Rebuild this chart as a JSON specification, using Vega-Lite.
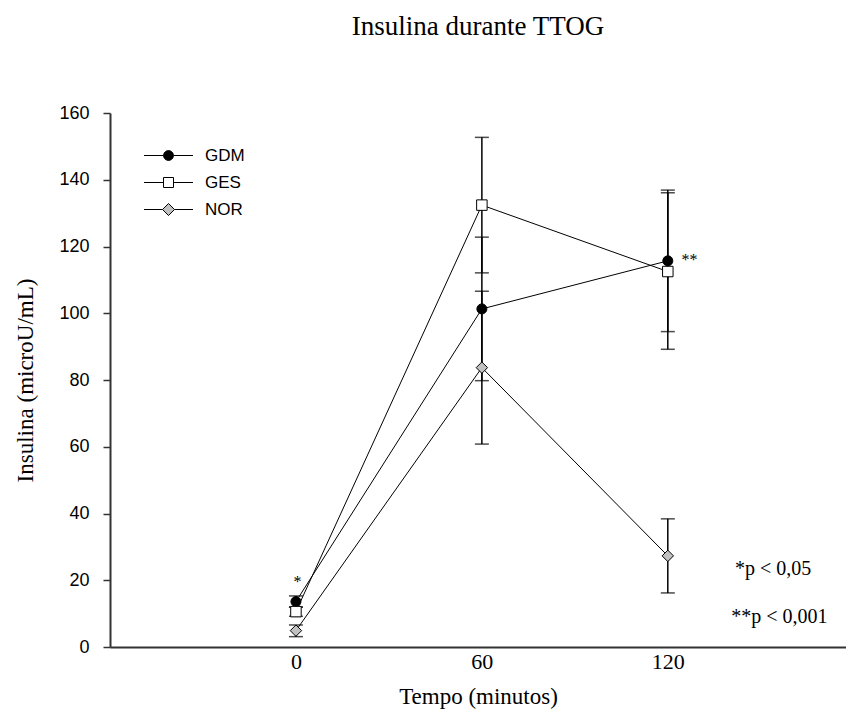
{
  "$schema": "https://vega.github.io/schema/vega-lite/v6.json",
  "width": 736,
  "height": 534,
  "autosize": {"type": "none"},
  "padding": {"left": 110, "top": 113, "right": 0, "bottom": 72},
  "background": "white",
  "title": {"text": "Insulina durante TTOG", "font": "Liberation Serif", "fontSize": 27, "fontWeight": "normal", "color": "black", "anchor": "middle", "offset": 63},
  "config": {"view": {"stroke": null}},
  "datasets": {
    "ins": [
      {"grupo": "GDM", "tempo": 0, "insulina": 13.6, "lo": 11.9, "hi": 15.3},
      {"grupo": "GDM", "tempo": 60, "insulina": 101.3, "lo": 79.8, "hi": 122.8},
      {"grupo": "GDM", "tempo": 120, "insulina": 115.7, "lo": 94.5, "hi": 136.9},
      {"grupo": "GES", "tempo": 0, "insulina": 10.6, "lo": 9.2, "hi": 12.0},
      {"grupo": "GES", "tempo": 60, "insulina": 132.4, "lo": 112.1, "hi": 152.7},
      {"grupo": "GES", "tempo": 120, "insulina": 112.5, "lo": 89.2, "hi": 136.1},
      {"grupo": "NOR", "tempo": 0, "insulina": 4.9, "lo": 3.1, "hi": 6.6},
      {"grupo": "NOR", "tempo": 60, "insulina": 83.7, "lo": 60.8, "hi": 106.6},
      {"grupo": "NOR", "tempo": 120, "insulina": 27.3, "lo": 16.2, "hi": 38.4}
    ],
    "notes": [
      {"label": "*", "tempo": 0.5, "insulina": 19.5, "size": 16},
      {"label": "**", "tempo": 127, "insulina": 116, "size": 16},
      {"label": "*p < 0,05", "tempo": 154, "insulina": 23.5, "size": 20},
      {"label": "**p < 0,001", "tempo": 156, "insulina": 9, "size": 20}
    ]
  },
  "data": {"name": "ins"},
  "encoding": {
    "x": {"field": "tempo", "type": "quantitative", "scale": {"domain": [-60, 177.5], "nice": false, "zero": false},
      "axis": {"values": [0, 60, 120], "title": "Tempo (minutos)", "grid": false, "ticks": false, "domainColor": "#333", "domainWidth": 2,
        "labelFont": "Liberation Serif", "labelFontSize": 22, "labelColor": "black", "labelPadding": 4,
        "titleFont": "Liberation Serif", "titleFontSize": 23, "titleFontWeight": "normal", "titleColor": "black", "titlePadding": 13}},
    "y": {"field": "insulina", "type": "quantitative", "scale": {"domain": [0, 160], "nice": false},
      "axis": {"values": [0, 20, 40, 60, 80, 100, 120, 140, 160], "title": "Insulina (microU/mL)", "grid": false, "tickSize": 7, "tickColor": "#333", "tickWidth": 1.5, "domainColor": "#333", "domainWidth": 2,
        "labelFont": "Liberation Sans", "labelFontSize": 18, "labelColor": "black", "labelPadding": 14,
        "titleFont": "Liberation Serif", "titleFontSize": 23, "titleFontWeight": "normal", "titleColor": "black", "titlePadding": 21}}
  },
  "layer": [
    {"data": {"values": [{}]}, "mark": {"type": "rule", "color": "#333", "strokeWidth": 2}, "encoding": {"x": null, "y": {"datum": 160}}},
    {"mark": {"type": "errorbar", "ticks": {"size": 14}, "color": "black", "thickness": 1.5},
      "encoding": {"y": {"field": "lo", "type": "quantitative"}, "y2": {"field": "hi"}, "detail": {"field": "grupo"}}},
    {"mark": {"type": "line", "color": "black", "strokeWidth": 1}, "encoding": {"detail": {"field": "grupo"}}},
    {"transform": [{"filter": "datum.grupo === 'GDM'"}], "mark": {"type": "point", "shape": "circle", "filled": true, "fill": "black", "size": 100, "stroke": "black", "strokeWidth": 1, "opacity": 1}},
    {"transform": [{"filter": "datum.grupo === 'GES'"}], "mark": {"type": "point", "shape": "square", "filled": true, "fill": "white", "size": 110, "stroke": "black", "strokeWidth": 1, "opacity": 1}},
    {"transform": [{"filter": "datum.grupo === 'NOR'"}], "mark": {"type": "point", "shape": "diamond", "filled": true, "fill": "#c0c0c0", "size": 130, "stroke": "black", "strokeWidth": 1, "opacity": 1}},
    {"mark": {"type": "point", "filled": true, "size": 100, "opacity": 0},
      "encoding": {
        "shape": {"field": "grupo", "type": "nominal", "scale": {"domain": ["GDM", "GES", "NOR"], "range": ["M-2.45,0H-0.5M0.5,0H2.45M0.5,0L0.433,0.25L0.25,0.433L0,0.5L-0.25,0.433L-0.433,0.25L-0.5,0L-0.433,-0.25L-0.25,-0.433L0,-0.5L0.25,-0.433L0.433,-0.25Z", "M-2.45,0H-0.5M0.5,0H2.45M-0.5,-0.5H0.5V0.5H-0.5Z", "M-2.45,0H-0.6M0.6,0H2.45M0,-0.6L0.6,0L0,0.6L-0.6,0Z"]},
          "legend": {"orient": "none", "legendX": 48, "legendY": 32, "title": null, "padding": 0, "labelFont": "Liberation Sans", "labelFontSize": 17, "labelColor": "black", "labelOffset": 26, "symbolSize": 400, "symbolStrokeWidth": 1, "symbolOpacity": 1, "rowPadding": 8}},
        "fill": {"field": "grupo", "type": "nominal", "scale": {"domain": ["GDM", "GES", "NOR"], "range": ["black", "white", "#c0c0c0"]},
          "legend": {"orient": "none", "legendX": 48, "legendY": 32, "title": null, "padding": 0, "labelFont": "Liberation Sans", "labelFontSize": 17, "labelColor": "black", "labelOffset": 26, "symbolSize": 400, "symbolStrokeWidth": 1, "symbolOpacity": 1, "rowPadding": 8}},
        "stroke": {"field": "grupo", "type": "nominal", "scale": {"domain": ["GDM", "GES", "NOR"], "range": ["black", "black", "black"]},
          "legend": {"orient": "none", "legendX": 48, "legendY": 32, "title": null, "padding": 0, "labelFont": "Liberation Sans", "labelFontSize": 17, "labelColor": "black", "labelOffset": 26, "symbolSize": 400, "symbolStrokeWidth": 1, "symbolOpacity": 1, "rowPadding": 8}}
      }},
    {"data": {"name": "notes"}, "mark": {"type": "text", "font": "Liberation Serif", "color": "black", "align": "center", "baseline": "middle"},
      "encoding": {"text": {"field": "label"}, "size": {"field": "size", "type": "quantitative", "scale": null}}}
  ]
}
